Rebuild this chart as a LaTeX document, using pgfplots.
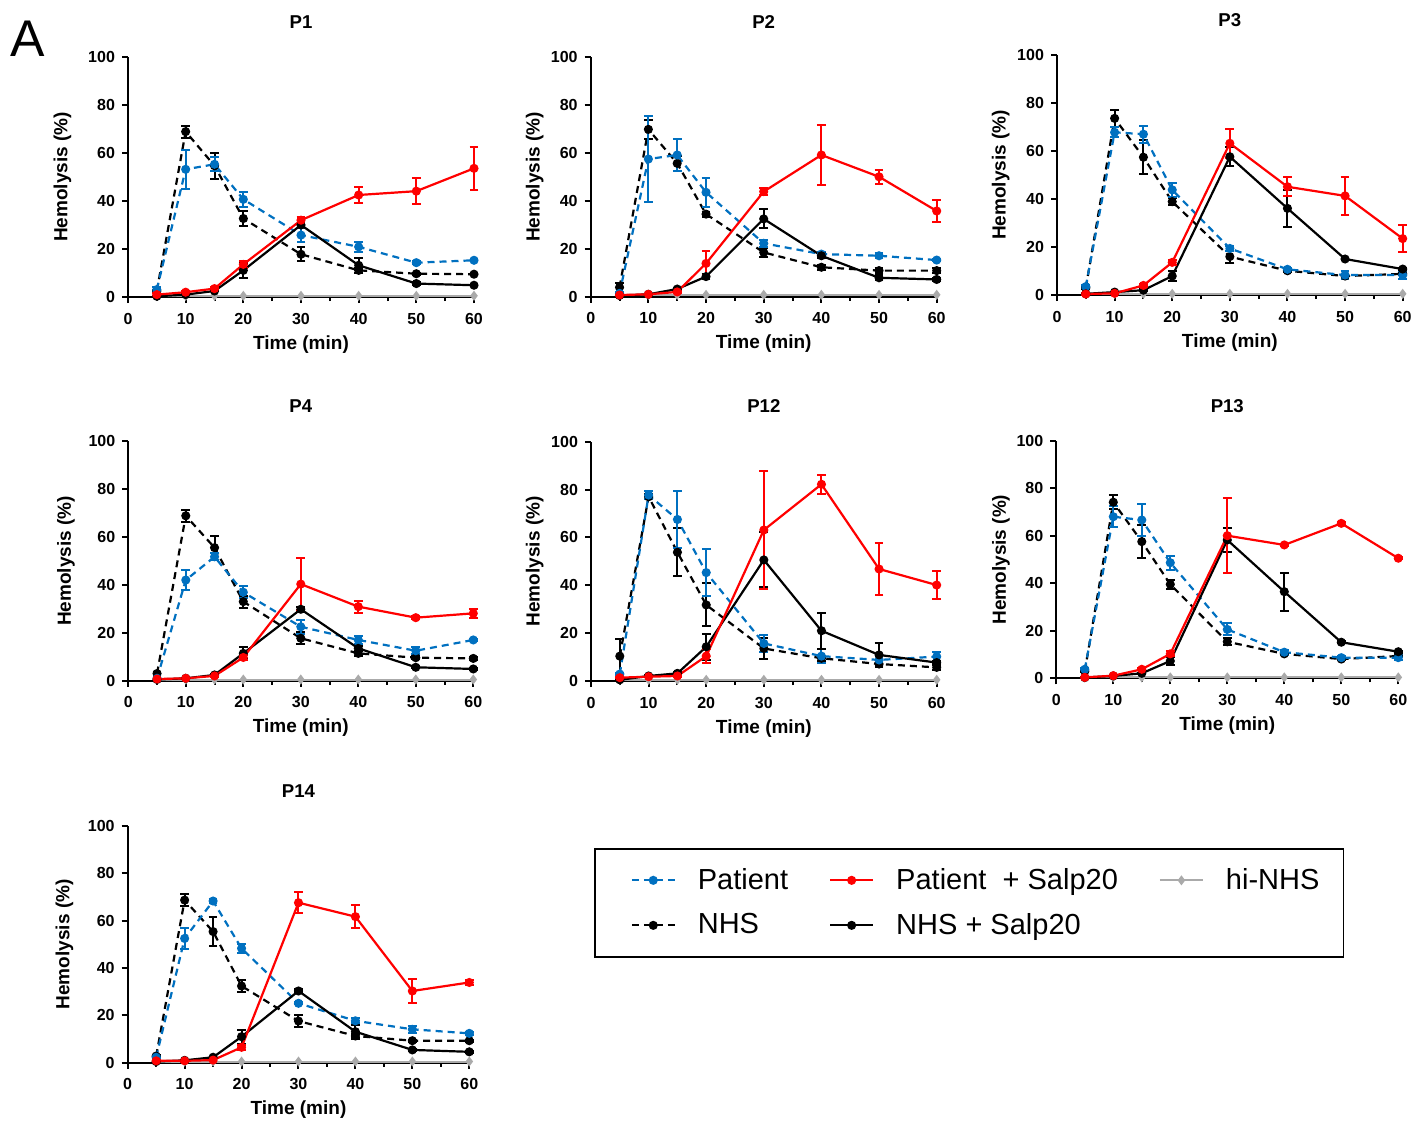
\documentclass[border=0pt]{standalone}
\usepackage{pgfplots}
\pgfplotsset{compat=1.18}
\usepackage{pgfplotstable}
\usepackage{fontspec}
\setmainfont{Liberation Sans}
\definecolor{pblue}{RGB}{0,112,192}
\definecolor{pred}{RGB}{255,0,0}
\definecolor{pgray}{RGB}{170,170,170}

\pgfplotstableread{
t p pe n ne r re s se h
5 3.1 1 2.5 0.5 1.0 0.5 0.3 0 0.5
10 53.2 8 68.9 2.5 2.0 0.5 1.0 0 0.5
15 55.3 3 54.7 5.5 3.5 0.5 2.5 0 0.5
20 40.7 3 32.7 3 13.6 1.5 11.1 3 0.5
30 25.8 3 17.8 3 32.0 1.5 30.0 1 0.5
40 20.9 2 11.1 1 42.5 3.5 13.2 3 0.5
50 14.3 0.5 9.7 0.5 44.1 5.5 5.6 0.5 0.5
60 15.3 0.5 9.5 0.5 53.6 9 4.9 0.5 0.5
}\tPa
\pgfplotstableread{
t p pe n ne r re s se h
5 1.4 0.5 3.9 2 0.7 0.3 0.5 0 0.8
10 57.5 18 69.9 4 1.0 0.3 1.0 0 0.8
15 59.2 6.5 55.7 3 2.0 0.5 3.2 0.5 0.8
20 43.6 6 34.5 1 13.9 5 8.4 1 0.8
30 22.3 1.5 18.5 2 43.9 1.5 32.5 4 0.8
40 17.8 1 12.3 1 59.2 12.7 17.1 1 0.8
50 17.1 1 10.9 1 50.1 3 7.9 1 0.8
60 15.3 0.5 10.9 1 35.8 4.5 7.2 0.5 0.8
}\tPb
\pgfplotstableread{
t p pe n ne r re s se h
5 3.5 0.5 3.0 0.5 0.4 0.3 0.5 0 0.5
10 67.8 2 73.6 3.5 0.7 0.3 1.2 0 0.5
15 67.0 3.5 57.4 7 4.0 0.5 2.0 0.5 0.5
20 43.8 3 38.9 1.5 13.6 1 7.9 2 0.5
30 19.4 1 16.0 2.5 63.2 6 57.6 4 0.5
40 10.7 0.5 10.1 0.5 45.1 4 36.1 7.8 0.5
50 8.3 1.5 7.9 0.5 41.3 7.8 15.0 0.5 0.5
60 8.3 1.5 8.8 0.5 23.5 5.5 10.8 0.5 0.5
}\tPc
\pgfplotstableread{
t p pe n ne r re s se h
5 1.0 0.3 3.0 0.5 0.7 0.3 0.5 0 0.5
10 42.0 4 68.8 2.5 1.0 0.3 1.0 0 0.5
15 51.7 1.5 55.5 5 2.0 0.5 2.4 0.5 0.5
20 36.9 2.5 33.0 2.5 9.7 1 11.4 2.5 0.5
30 22.5 3 17.7 2.5 40.3 11 29.8 1 0.5
40 17.0 1.5 11.4 1 30.9 2.5 13.5 1 0.5
50 12.5 1.5 9.6 0.5 26.3 0.5 5.6 0.5 0.5
60 17.0 0.5 9.3 0.5 28.1 2 4.9 0.5 0.5
}\tPd
\pgfplotstableread{
t p pe n ne r re s se h
5 2.9 0.5 10.4 7 1.4 0.3 0.5 0 0.5
10 77.7 1.5 77.0 1 1.8 0.3 2.1 0.3 0.5
15 67.5 12 53.8 10 2.1 0.5 3.2 0.5 0.5
20 45.3 9.7 31.8 9 10.4 3 14.3 5.5 0.5
30 15.7 3.5 13.6 4.5 63.1 24.7 50.6 11.5 0.5
40 10.4 3 9.5 1 82.2 4 21.0 7.5 0.5
50 8.8 2 7.1 1 46.8 11 10.9 5 0.5
60 10.2 2 5.7 1 40.1 6 7.7 0.5 0.5
}\tPl
\pgfplotstableread{
t p pe n ne r re s se h
5 3.8 0.5 3.0 0.5 0.4 0.3 0.3 0 0.4
10 68.1 4.5 74.2 3 1.1 0.3 1.0 0 0.4
15 66.7 6.7 57.6 7 3.8 0.5 2.1 0.3 0.4
20 48.7 3 39.6 2 10.3 1 7.3 1.5 0.4
30 20.6 2.5 15.4 1.5 60.1 15.7 58.3 5 0.4
40 11.0 1 10.3 0.5 56.2 0.5 36.5 8 0.4
50 8.7 0.5 8.1 0.5 65.3 0.5 15.2 0.5 0.4
60 8.7 1 9.4 0.5 50.6 0.5 11.2 0.5 0.4
}\tPm
\pgfplotstableread{
t p pe n ne r re s se h
5 2.3 0.5 2.8 0.5 0.8 0.3 0.5 0 0.5
10 52.5 4.5 68.7 2.5 0.8 0.3 1.0 0 0.5
15 68.3 1 55.4 6 1.1 0.3 2.3 0.3 0.5
20 48.3 2 32.4 2.5 6.5 1 11.0 3 0.5
30 25.1 0.5 17.6 2.5 67.6 4.5 30.3 1 0.5
40 17.7 1 11.3 1 61.7 5 13.1 3 0.5
50 14.1 1.5 9.3 0.5 30.3 5 5.4 0.5 0.5
60 12.4 0.5 9.3 0.5 33.9 1 4.6 0.5 0.5
}\tPn

\pgfplotsset{
  patline/.style={color=pblue, line width=1.1pt, dash pattern=on 3.5pt off 2.5pt, mark=*, mark size=1.7pt, mark options={solid}},
  nhsline/.style={color=black, line width=1.1pt, dash pattern=on 3.5pt off 2.5pt, mark=*, mark size=1.7pt, mark options={solid}},
  redline/.style={color=pred, line width=1.1pt, solid, mark=*, mark size=1.7pt},
  nsline/.style={color=black, line width=1.1pt, solid, mark=*, mark size=1.7pt},
  hiline/.style={color=pgray, line width=1pt, solid, mark=diamond*, mark size=1.7pt},
  ebar/.style={error bars/.cd, y dir=both, y explicit, error bar style={solid, line width=1pt}, error mark options={rotate=90, mark size=2.2pt, line width=1pt, solid}},
  hemo/.style={
    scale only axis, anchor=south west,
    xmin=0, xmax=60, ymin=0, ymax=100,
    axis lines*=left,
    axis line style={line width=1pt, -},
    every outer x axis line/.append style={-},
    every outer y axis line/.append style={-},
    tick align=outside,
    xtick={0,10,...,60}, minor xtick={5,15,...,55}, ytick={0,20,...,100},
    major tick length=3pt, minor tick length=2pt,
    tick style={black, line width=1pt},
    tick label style={font=\bfseries\fontsize{8pt}{8.5pt}\selectfont},
    xticklabel style={yshift=-1.5pt},
    /pgf/number format/assume math mode=true,
    clip=false,
    every axis title/.style={at={(axis description cs:0.5,1)}, anchor=base, yshift=14.5pt, font=\bfseries\fontsize{9.3pt}{10pt}\selectfont},
    every axis x label/.style={at={(axis description cs:0.5,0)}, anchor=base, yshift=-26pt, font=\bfseries\fontsize{9.5pt}{10pt}\selectfont},
    every axis y label/.style={rotate=90, anchor=south, inner sep=0pt, font=\bfseries\fontsize{9.5pt}{10pt}\selectfont},
    xlabel={Time (min)}, ylabel={Hemolysis (\%)},
  },
}

\newcommand{\panel}[7]{%
\begin{axis}[hemo, at={(#1pt,#2pt)}, width=#3pt, height=#4pt, title={#5},
  ylabel style={at={(axis description cs:-#6,0.5)}}]
\addplot[hiline, forget plot] table[x=t, y=h] {#7};
\addplot[nhsline, forget plot, ebar] table[x=t, y=n, y error=ne] {#7};
\addplot[patline, forget plot, ebar] table[x=t, y=p, y error=pe] {#7};
\addplot[nsline, forget plot, ebar] table[x=t, y=s, y error=se] {#7};
\addplot[redline, forget plot, ebar] table[x=t, y=r, y error=re] {#7};
\end{axis}}

\begin{document}
\begin{tikzpicture}
\node[anchor=base west, inner sep=0pt, font=\fontsize{25.8pt}{30pt}\selectfont] at (5pt,-28.5pt) {A};

\panel{64}{-148.5}{173}{120}{P1}{0.163}{\tPa}
\panel{295.35}{-148.35}{173}{119.7}{P2}{0.135}{\tPb}
\panel{528.5}{-147.5}{172.85}{120}{P3}{0.136}{\tPc}
\panel{64.15}{-340.35}{172.5}{119.85}{P4}{0.154}{\tPd}
\panel{295.5}{-340.5}{172.85}{119.65}{P12}{0.136}{\tPl}
\panel{528.15}{-339.15}{171}{118.65}{P13}{0.135}{\tPm}

\begin{axis}[hemo, at={(63.85pt,-531.35pt)}, width=170.8pt, height=118.35pt, title={P14},
  ylabel style={at={(axis description cs:-0.158,0.5)}},
  legend columns=3,
  legend cell align=left,
  legend image code/.code={\path[draw=none, fill=none] (0pt,-1pt) rectangle (8.5pt,1pt); \draw[mark repeat=2, mark phase=2, #1] plot coordinates {(8.5pt,0pt) (19.25pt,0pt) (30pt,0pt)};},
  legend style={at={(axis description cs:1.365,0.907)}, anchor=north west,
    draw=black, line width=0.8pt, fill=white,
    font=\fontsize{14.5pt}{17pt}\selectfont,
    inner xsep=10pt, inner ysep=7.75pt, row sep=6.5pt,
    /tikz/every odd column/.append style={column sep=9pt},
    /tikz/every even column/.append style={column sep=10.5pt}},
]
\addplot[hiline, forget plot] table[x=t, y=h] {\tPn};
\addplot[nhsline, forget plot, ebar] table[x=t, y=n, y error=ne] {\tPn};
\addplot[patline, forget plot, ebar] table[x=t, y=p, y error=pe] {\tPn};
\addplot[nsline, forget plot, ebar] table[x=t, y=s, y error=se] {\tPn};
\addplot[redline, forget plot, ebar] table[x=t, y=r, y error=re] {\tPn};
\addlegendimage{patline}
\addlegendentry{Patient}
\addlegendimage{redline}
\addlegendentry{Patient\ \ + Salp20}
\addlegendimage{hiline}
\addlegendentry{hi-NHS}
\addlegendimage{nhsline}
\addlegendentry{NHS}
\addlegendimage{nsline}
\addlegendentry{NHS + Salp20}
\end{axis}

\pgfresetboundingbox
\path[use as bounding box] (0pt,0pt) rectangle (710.5pt,-564.5pt);
\end{tikzpicture}
\end{document}
